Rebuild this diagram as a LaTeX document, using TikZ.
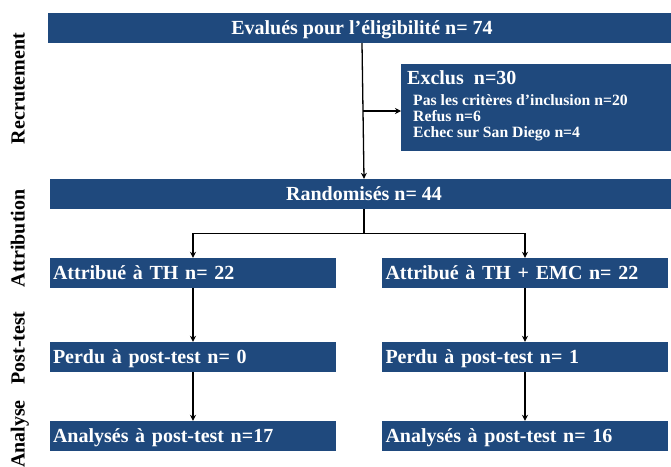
\documentclass[tikz,border=0pt]{standalone}
\usepackage{fontspec}
\setmainfont{Liberation Serif}
\usetikzlibrary{arrows.meta,calc}
\definecolor{boxblue}{RGB}{31,73,125}
\begin{document}
\begin{tikzpicture}[x=1pt,y=-1pt,
  box/.style={fill=boxblue, draw=none, text=white,
    font=\fontsize{20}{22}\selectfont\bfseries,
    inner ysep=0pt, inner xsep=0pt, minimum height=30pt,
    text height=21pt, text depth=9pt},
  widebox/.style={box, minimum width=628pt, align=center},
  leftbox/.style={box, text width=280pt, inner xsep=3pt, align=left},
  rightbox/.style={box, text width=279pt, inner xsep=3.5pt, align=left},
  exbox/.style={fill=boxblue, draw=none, inner sep=0pt, anchor=north west,
    minimum width=290pt, minimum height=87pt},
  extitle/.style={text=white, font=\fontsize{20}{22}\selectfont\bfseries,
    inner sep=0pt, anchor=base west},
  exsub/.style={text=white, font=\fontsize{15.7}{17}\selectfont\bfseries,
    inner sep=0pt, anchor=base west},
  phase/.style={text=black, font=\fontsize{20}{22}\selectfont\bfseries,
    inner sep=0pt, rotate=90, anchor=base},
  line/.style={draw=black, line width=1.3pt},
  conn/.style={line, -{Stealth[length=6pt,width=6pt]}}
]
\useasboundingbox (0,0) rectangle (671,466);
\clip (0,0) rectangle (671,466);

% phase labels
\node[phase] (lrec) at (24.5,88.5) {Recrutement};
\node[phase] (latt) at (24.5,238.5) {Attribution};
\node[phase] (lpost) at (24.5,348) {Post-test};
\node[phase] (lana) at (24.5,434) {Analyse};

% boxes
\node[widebox] (eval) at (362,28) {Evalués pour l’éligibilité n= 74};
\node[exbox] (excl) at (401,64) {};
\node[extitle] (exclt) at (407,84) {Exclus\ \ n=30};
\node[exsub] (excla) at (413,105) {Pas les critères d’inclusion n=20};
\node[exsub] (exclb) at (413,121) {Refus n=6};
\node[exsub] (exclc) at (413,137) {Echec sur San Diego n=4};
\node[widebox] (rand) at (364,194) {Randomisés n= 44};

\node[leftbox] (attL) at (193,273) {Attribué à TH n= 22};
\node[rightbox] (attR) at (525,273) {Attribué à TH + EMC n= 22};
\node[leftbox] (perL) at (193,357) {Perdu à post-test n= 0};
\node[rightbox] (perR) at (525,357) {Perdu à post-test n= 1};
\node[leftbox] (anaL) at (193,436) {Analysés à post-test n=17};
\node[rightbox] (anaR) at (525,436) {Analysés à post-test n= 16};

% connectors
\draw[conn] (eval.south) -- (rand.north);
\coordinate (mid) at ($(eval.south)!0.5!(rand.north)$);
\draw[conn] (mid) -- (mid -| excl.west);
\coordinate (split) at ($(rand.south)+(0,24)$);
\draw[line] (rand.south) -- (split);
\draw[conn] (split) -| (attL.north);
\draw[conn] (split) -| (attR.north);
\draw[conn] (attL.south) -- (perL.north);
\draw[conn] (attR.south) -- (perR.north);
\draw[conn] (perL.south) -- (anaL.north);
\draw[conn] (perR.south) -- (anaR.north);
\end{tikzpicture}
\end{document}
